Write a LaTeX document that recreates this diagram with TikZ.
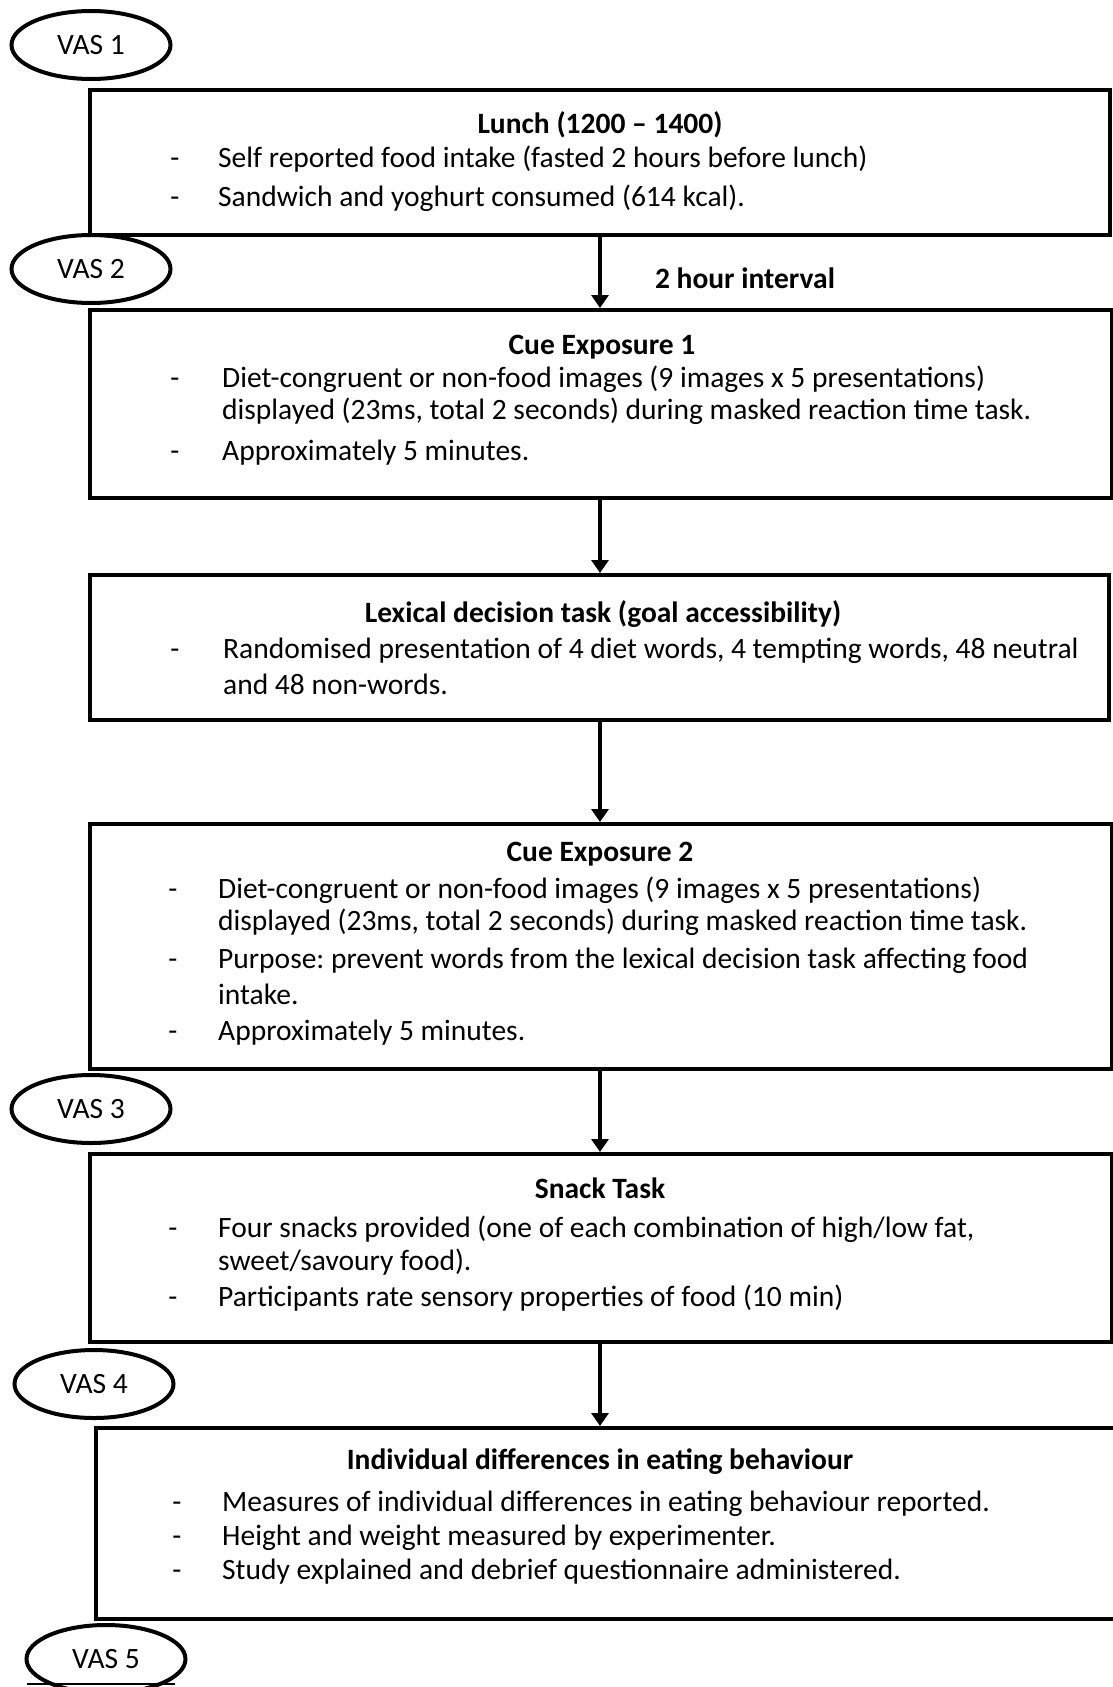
\documentclass[tikz,border=0pt]{standalone}
\usepackage{fontspec}
\setmainfont{Carlito}
\usetikzlibrary{arrows.meta,shapes.geometric}
\newcommand{\bodysize}{\fontsize{29.5}{36}\selectfont}
\frenchspacing
\begin{document}
\begin{tikzpicture}[x=1pt,y=-1pt,
  stagebox/.style={draw, line width=4pt, rectangle, inner sep=0pt, anchor=north west},
  vas/.style={draw, line width=4pt, ellipse, inner sep=0pt, minimum width=159pt,
    minimum height=68pt, fill=white, font=\bodysize},
  txt/.style={inner sep=0pt, anchor=base west, font=\bodysize},
  bullet/.style={inner sep=0pt, anchor=base, font=\bodysize},
  head/.style={inner sep=0pt, anchor=base, font=\bodysize\bfseries},
  flow/.style={line width=3.5pt, -{Triangle[width=17pt,length=13pt]}}
]
\useasboundingbox (0,0) rectangle (1113,1687);

% stage boxes
\node[stagebox, minimum width=1020pt, minimum height=145pt] (lunch) at (88,88) {};
\node[stagebox, minimum width=1022pt, minimum height=188pt] (cueA) at (88,308) {};
\node[stagebox, minimum width=1019pt, minimum height=145pt] (lex) at (88,573) {};
\node[stagebox, minimum width=1022pt, minimum height=245pt] (cueB) at (88,822) {};
\node[stagebox, minimum width=1022pt, minimum height=188pt] (snack) at (88,1152) {};
\node[stagebox, minimum width=1040pt, minimum height=191pt] (indiv) at (94,1426) {};

% arrows between stages
\coordinate (ax) at (600,0);
\draw[flow] (lunch.south -| ax) -- (cueA.north -| ax);
\draw[flow] (cueA.south -| ax) -- (lex.north -| ax);
\draw[flow] (lex.south -| ax) -- (cueB.north -| ax);
\draw[flow] (cueB.south -| ax) -- (snack.north -| ax);
\draw[flow] (snack.south -| ax) -- (indiv.north -| ax);

\node[head] (gap) at (745,288) {2 hour interval};

% VAS ratings
\node[vas] (vas1) at (91,45) {VAS 1};
\node[vas] (vas2) at (91,269) {VAS 2};
\node[vas] (vas3) at (91,1109) {VAS 3};
\node[vas] (vas4) at (94,1384) {VAS 4};
\node[vas] (vas5) at (106,1659) {VAS 5};
\draw[line width=1.5pt] (27,1684) -- (175,1684);

% Lunch
\node[head] (lunchT) at (600,133) {Lunch (1200 -- 1400)};
\node[bullet] (lunchD1) at (175,167) {-};
\node[txt] (lunch1) at (218,167) {Self reported food intake (fasted 2 hours before lunch)};
\node[bullet] (lunchD2) at (175,206) {-};
\node[txt] (lunch2) at (218,206) {Sandwich and yoghurt consumed (614 kcal).};

% Cue exposure 1
\node[head] (cueAT) at (602,354) {Cue Exposure 1};
\node[bullet] (cueAD1) at (175,387) {-};
\node[txt] (cueA1) at (222,387) {Diet-congruent or non-food images (9 images x 5 presentations)};
\node[txt] (cueA2) at (222,419) {displayed (23ms, total 2 seconds) during masked reaction time task.};
\node[bullet] (cueAD2) at (175,460) {-};
\node[txt] (cueA3) at (222,460) {Approximately 5 minutes.};

% Lexical decision task
\node[head] (lexT) at (603,622) {Lexical decision task (goal accessibility)};
\node[bullet] (lexD1) at (175,658) {-};
\node[txt] (lex1) at (223,658) {Randomised presentation of 4 diet words, 4 tempting words, 48 neutral};
\node[txt] (lex2) at (223,694) {and 48 non-words.};

% Cue exposure 2
\node[head] (cueBT) at (600,861) {Cue Exposure 2};
\node[bullet] (cueBD1) at (173,898) {-};
\node[txt] (cueB1) at (218,898) {Diet-congruent or non-food images (9 images x 5 presentations)};
\node[txt] (cueB2) at (218,930) {displayed (23ms, total 2 seconds) during masked reaction time task.};
\node[bullet] (cueBD2) at (173,968) {-};
\node[txt] (cueB3) at (218,968) {Purpose: prevent words from the lexical decision task affecting food};
\node[txt] (cueB4) at (218,1004) {intake.};
\node[bullet] (cueBD3) at (173,1040) {-};
\node[txt] (cueB5) at (218,1040) {Approximately 5 minutes.};

% Snack task
\node[head] (snackT) at (600,1198) {Snack Task};
\node[bullet] (snackD1) at (173,1237) {-};
\node[txt] (snack1) at (218,1237) {Four snacks provided (one of each combination of high/low fat,};
\node[txt] (snack2) at (218,1270) {sweet/savoury food).};
\node[bullet] (snackD2) at (173,1306) {-};
\node[txt] (snack3) at (218,1306) {Participants rate sensory properties of food (10 min)};

% Individual differences
\node[head] (indivT) at (600,1469) {Individual differences in eating behaviour};
\node[bullet] (indivD1) at (177,1511) {-};
\node[txt] (indiv1) at (222,1511) {Measures of individual differences in eating behaviour reported.};
\node[bullet] (indivD2) at (177,1545) {-};
\node[txt] (indiv2) at (222,1545) {Height and weight measured by experimenter.};
\node[bullet] (indivD3) at (177,1579) {-};
\node[txt] (indiv3) at (222,1579) {Study explained and debrief questionnaire administered.};
\end{tikzpicture}
\end{document}
